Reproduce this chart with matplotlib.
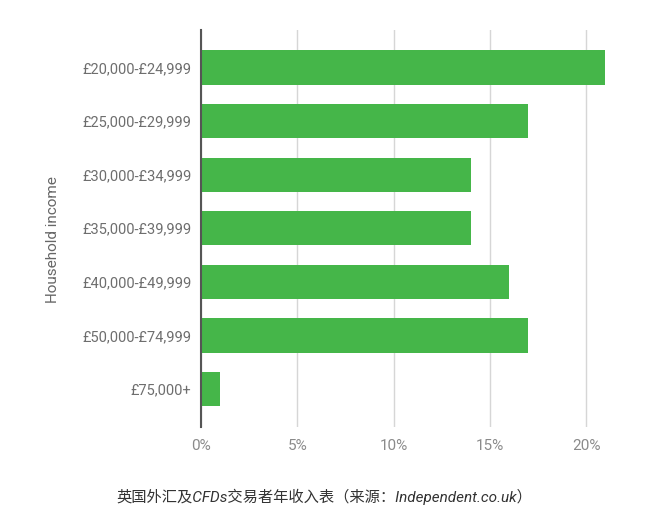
import matplotlib
matplotlib.use("Agg")
import matplotlib.pyplot as plt

categories = ["£20,000-£24,999", "£25,000-£29,999", "£30,000-£34,999",
              "£35,000-£39,999", "£40,000-£49,999", "£50,000-£74,999", "£75,000+"]
values = [21, 17, 14, 14, 16, 17, 1]
xticks = [0, 5, 10, 15, 20]
xtick_labels = ["0%", "5%", "10%", "15%", "20%"]
ylabel = "Household income"
caption = "英国外汇及CFDs交易者年收入表（来源：Independent.co.uk）"

plt.rcParams['font.family'] = ['Roboto', 'Noto Sans CJK SC', 'DejaVu Sans']

fig = plt.figure(figsize=(6.64, 5.14), dpi=100)
ax = fig.add_axes([201/664, 1-427/514, 415/664, (427-30)/514])

ypos = list(range(len(categories)))
ax.barh(ypos, values, height=0.64, color="#45b649", zorder=3)
ax.set_ylim(len(categories)-1+0.71, -0.7)
ax.set_xlim(0, 21.55)
ax.set_yticks(ypos)
ax.set_yticklabels(categories, fontsize=10.5, color="#6e6e6e")
ax.set_xticks(xticks)
ax.set_xticklabels(xtick_labels, fontsize=11, color="#8a8a8a")
ax.tick_params(axis='y', length=0, pad=7)
ax.tick_params(axis='x', length=0, pad=9)
ax.grid(axis='x', color="#d6d6d6", linewidth=1, zorder=0)
for s in ["top", "right", "bottom"]:
    ax.spines[s].set_visible(False)
ax.spines["left"].set_color("#555555")
ax.spines["left"].set_linewidth(1.5)
ax.spines["left"].set_zorder(4)
ax.set_ylabel(ylabel, fontsize=11, color="#666666", va="center")
ax.yaxis.set_label_coords((53-201)/415, 1-(240-30)/397)

fig.text(324/664, 1-497/514, caption, fontsize=11, color="#333333",
         ha="center", va="center", style="italic")

fig.savefig("out.png", dpi=100)
